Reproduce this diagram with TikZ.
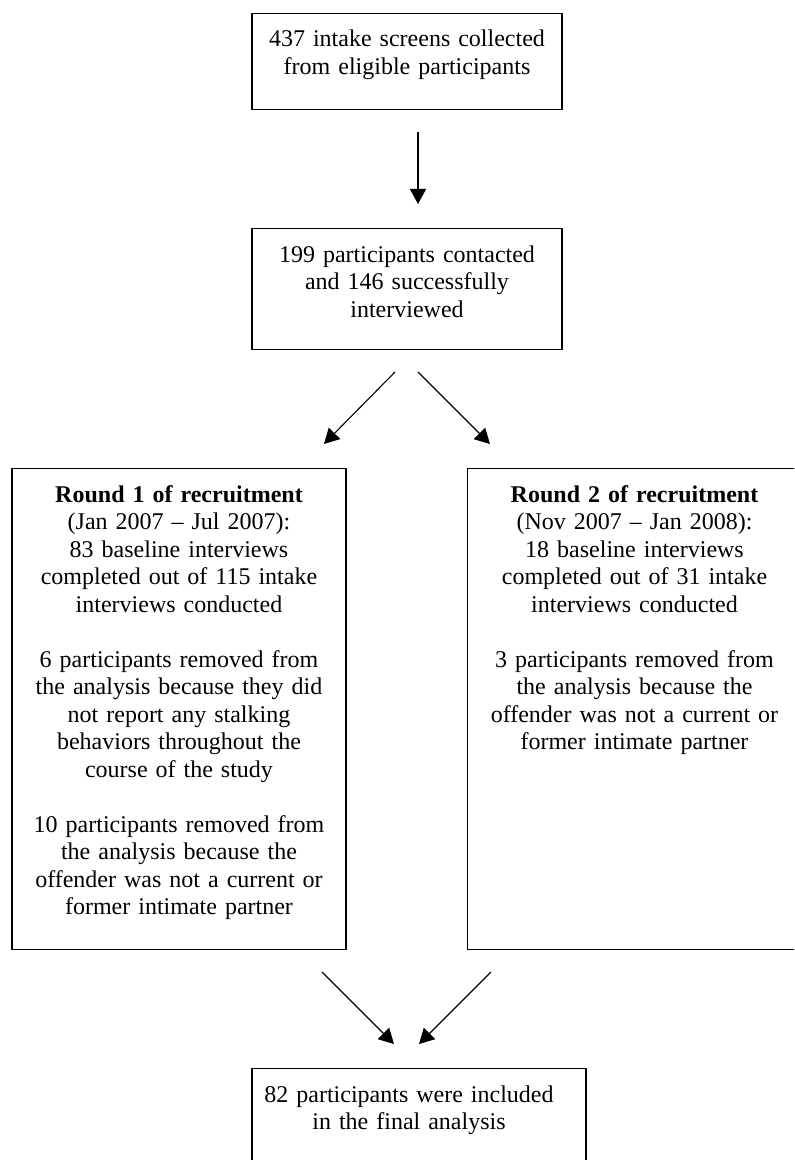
\documentclass[tikz,border=0pt]{standalone}
\usepackage{fontspec}
\setmainfont{Liberation Serif}
\usetikzlibrary{arrows.meta}
\tikzstyle{stagebox} = [draw=black, fill=white, line width=0.65pt,
    rectangle, anchor=north, align=center, inner xsep=4pt, inner ysep=7.75pt,
    text height=9pt, font=\fontsize{12}{13.75}\selectfont]
\tikzstyle{flowarrow} = [line width=0.55pt, -{Triangle[length=7.5pt,width=8pt]}]

\begin{document}
\begin{tikzpicture}[x=0.5pt,y=-0.5pt]
\path[use as bounding box, clip] (0,0) rectangle (794,1160);
\fill[white] (0,0) rectangle (794,1160);
\node[stagebox, text width=147pt, text depth=23.6pt] (screens) at (407,12.7)
    {437 intake screens collected\\from eligible participants};
\node[stagebox, text width=147pt, text depth=36pt] (contacted) at (407,228)
    {199 participants contacted\\and 146 successfully\\interviewed};
\node[stagebox, text width=159pt, text depth=216pt] (roundone) at (179,468)
    {\textbf{Round 1 of recruitment}\\(Jan 2007 -- Jul 2007):\\83 baseline interviews\\
     completed out of 115 intake\\interviews conducted\\[13.75pt]
     6 participants removed from\\the analysis because they did\\not report any stalking\\
     behaviors throughout the\\course of the study\\[13.75pt]
     10 participants removed from\\the analysis because the\\offender was not a current or\\
     former intimate partner};
\node[stagebox, text width=159pt, text depth=216pt] (roundtwo) at (634.5,468)
    {\textbf{Round 2 of recruitment}\\(Nov 2007 -- Jan 2008):\\18 baseline interviews\\
     completed out of 31 intake\\interviews conducted\\[13.75pt]
     3 participants removed from\\the analysis because the\\offender was not a current or\\
     former intimate partner};
\node[stagebox, text width=159pt, text depth=36pt] (final) at (419,1068)
    {82 participants were included\hspace{10pt}\mbox{}\\in the final analysis\hspace{10pt}\mbox{}};

\coordinate (s1) at (418,132);   \coordinate (e1) at (418,204);
\coordinate (s2) at (395,372);   \coordinate (e2) at (324,444);
\coordinate (s3) at (418,372);   \coordinate (e3) at (490,444);
\coordinate (s4) at (322,972);   \coordinate (e4) at (394,1044);
\coordinate (s5) at (491,972);   \coordinate (e5) at (419,1044);
\draw[flowarrow] (s1) -- (e1);
\draw[flowarrow] (s2) -- (e2);
\draw[flowarrow] (s3) -- (e3);
\draw[flowarrow] (s4) -- (e4);
\draw[flowarrow] (s5) -- (e5);
\end{tikzpicture}
\end{document}
